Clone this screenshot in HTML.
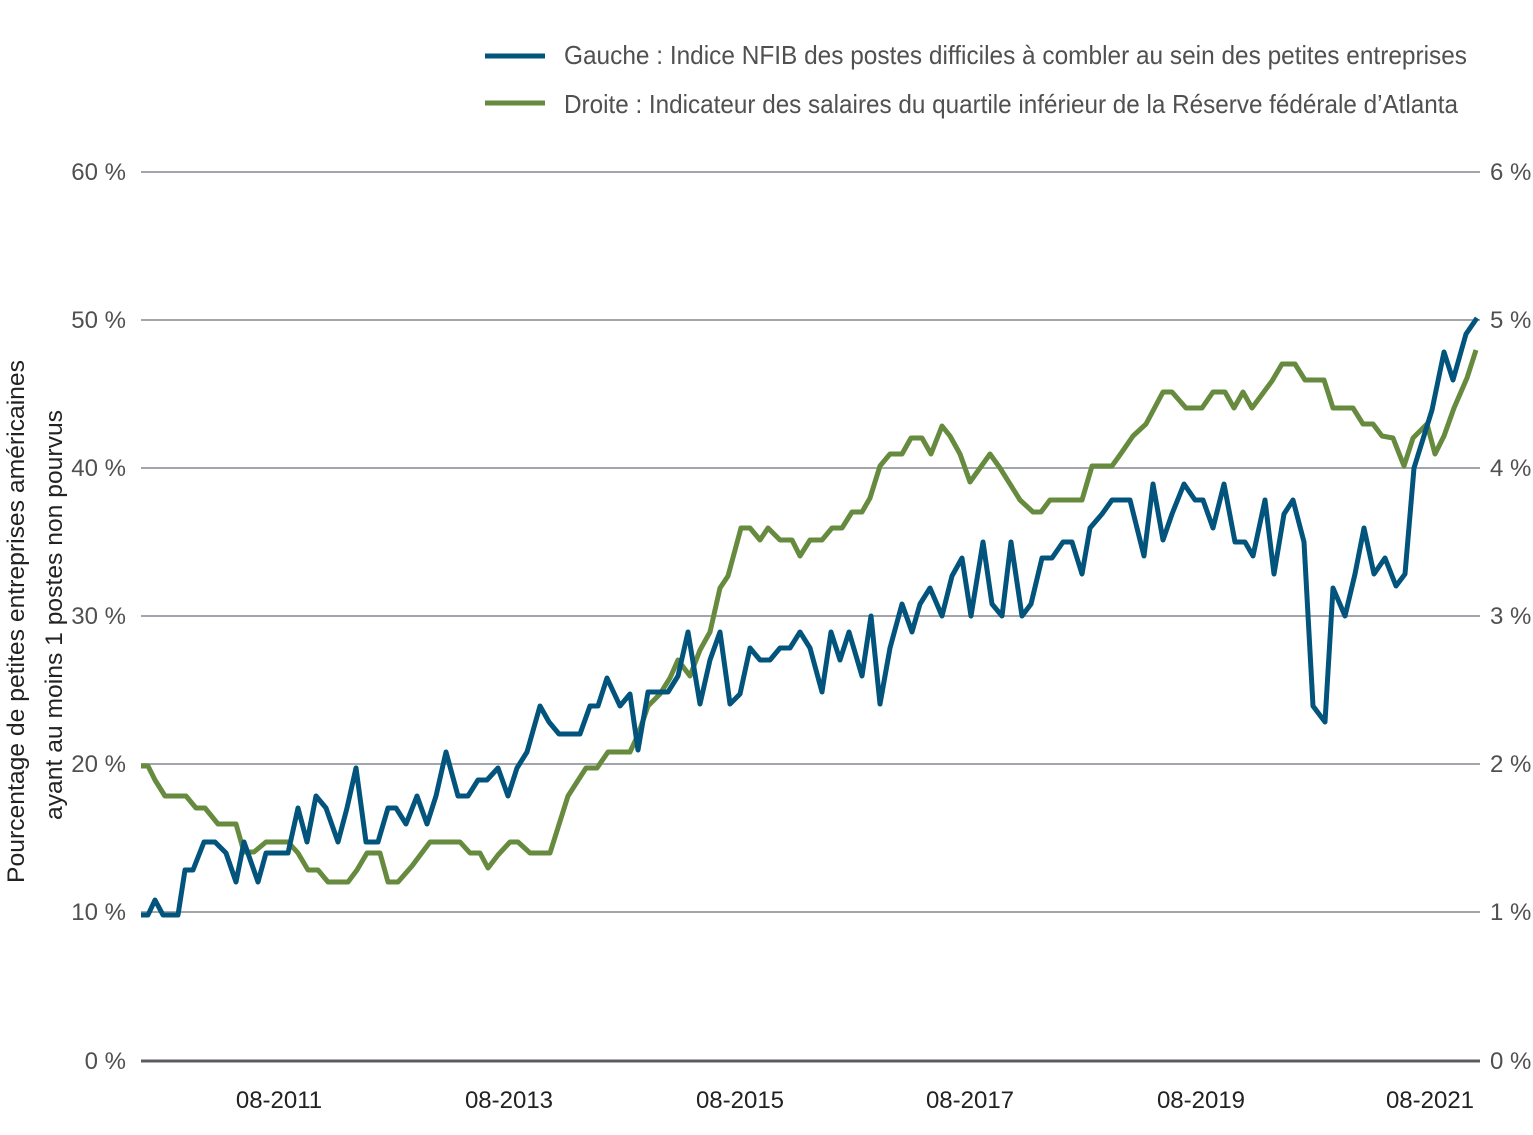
<!DOCTYPE html>
<html><head><meta charset="utf-8"><style>
html,body{margin:0;padding:0;background:#fff;}
svg text{font-family:"Liberation Sans Narrow","Liberation Sans",sans-serif;fill:#505050;}
</style></head><body>
<svg width="1533" height="1130" viewBox="0 0 1533 1130" xmlns="http://www.w3.org/2000/svg">
<g stroke="#a3a5ad" stroke-width="2">
<line x1="141" y1="172" x2="1480" y2="172"/>
<line x1="141" y1="320" x2="1480" y2="320"/>
<line x1="141" y1="468" x2="1480" y2="468"/>
<line x1="141" y1="616" x2="1480" y2="616"/>
<line x1="141" y1="764" x2="1480" y2="764"/>
<line x1="141" y1="912" x2="1480" y2="912"/>
</g>
<line x1="141" y1="1061" x2="1480" y2="1061" stroke="#5a5c62" stroke-width="3"/>
<g font-size="24" text-anchor="end">
<text x="126" y="180">60 %</text><text x="126" y="328">50 %</text><text x="126" y="476">40 %</text>
<text x="126" y="624">30 %</text><text x="126" y="772">20 %</text><text x="126" y="920">10 %</text><text x="126" y="1069">0 %</text>
</g>
<g font-size="24" text-anchor="start">
<text x="1490" y="180">6 %</text><text x="1490" y="328">5 %</text><text x="1490" y="476">4 %</text>
<text x="1490" y="624">3 %</text><text x="1490" y="772">2 %</text><text x="1490" y="920">1 %</text><text x="1490" y="1069">0 %</text>
</g>
<g font-size="24" text-anchor="middle">
<text x="279" y="1108" style="fill:#222">08-2011</text><text x="509" y="1108" style="fill:#222">08-2013</text>
<text x="740" y="1108" style="fill:#222">08-2015</text><text x="970" y="1108" style="fill:#222">08-2017</text>
<text x="1201" y="1108" style="fill:#222">08-2019</text><text x="1430" y="1108" style="fill:#222">08-2021</text>
</g>
<text transform="translate(24,883) rotate(-90)" font-size="24" textLength="523" lengthAdjust="spacingAndGlyphs" style="fill:#222">Pourcentage de petites entreprises américaines</text>
<text transform="translate(62,820) rotate(-90)" font-size="24" textLength="410" lengthAdjust="spacingAndGlyphs" style="fill:#222">ayant au moins 1 postes non pourvus</text>
<line x1="485" y1="56" x2="545" y2="56" stroke="#02547c" stroke-width="5"/>
<line x1="485" y1="103" x2="545" y2="103" stroke="#668a3e" stroke-width="5"/>
<text x="564" y="64" font-size="26" textLength="903" lengthAdjust="spacingAndGlyphs">Gauche : Indice NFIB des postes difficiles à combler au sein des petites entreprises</text>
<text x="564" y="113" font-size="26" textLength="894" lengthAdjust="spacingAndGlyphs">Droite : Indicateur des salaires du quartile inférieur de la Réserve fédérale d’Atlanta</text>
<polyline fill="none" stroke="#668a3e" stroke-width="5" stroke-linejoin="round" points="141,766 148,766 155,780 165,796 186,796 196,808 205,808 218,824 236,824 244,852 254,852 266,842 288,842 298,853 308,870 318,870 328,882 348,882 357,870 367,853 380,853 388,882 398,882 412,866 430,842 460,842 470,853 480,853 488,868 498,855 510,842 518,842 530,853 550,853 568,796 586,768 597,768 608,752 630,752 638,735 648,706 660,694 670,678 678,660 690,676 700,650 710,632 720,588 728,576 741,528 750,528 760,540 768,528 780,540 792,540 800,556 810,540 822,540 832,528 842,528 852,512 862,512 870,498 880,466 890,454 902,454 911,438 922,438 931,454 942,426 950,436 960,454 970,482 990,454 1000,468 1020,500 1033,512 1041,512 1050,500 1082,500 1092,466 1112,466 1122,452 1133,436 1146,424 1163,392 1172,392 1186,408 1202,408 1213,392 1225,392 1234,408 1243,392 1252,408 1272,381 1282,364 1295,364 1305,380 1324,380 1333,408 1353,408 1363,424 1373,424 1382,436 1393,438 1404,466 1413,438 1427,424 1435,454 1444,436 1454,408 1467,378 1476,350"/>
<polyline fill="none" stroke="#02547c" stroke-width="5" stroke-linejoin="round" points="141,915 148,915 155,900 163,915 170,915 178,915 185,870 193,870 204,842 215,842 226,853 236,882 244,842 258,882 266,853 280,853 288,853 298,808 307,842 316,796 326,808 338,842 347,808 356,768 366,842 378,842 388,808 396,808 406,824 417,796 427,824 436,796 446,752 458,796 468,796 478,780 487,780 498,768 508,796 517,768 527,752 540,706 549,722 559,734 570,734 580,734 590,706 598,706 607,678 620,706 630,694 638,750 648,692 668,692 678,676 688,632 700,704 710,660 720,632 730,704 740,694 750,648 760,660 770,660 780,648 790,648 800,632 810,648 822,692 831,632 840,660 849,632 862,676 871,616 880,704 890,648 902,604 912,632 920,604 930,588 942,616 952,576 962,558 971,616 983,542 992,604 1002,616 1011,542 1022,616 1031,604 1042,558 1052,558 1063,542 1072,542 1082,574 1090,528 1102,514 1112,500 1130,500 1144,556 1153,484 1163,540 1172,514 1184,484 1195,500 1203,500 1213,528 1224,484 1235,542 1245,542 1253,556 1265,500 1274,574 1284,514 1293,500 1304,542 1313,706 1325,722 1333,588 1345,616 1355,574 1364,528 1374,574 1385,558 1396,586 1405,574 1414,468 1432,410 1444,352 1453,380 1466,334 1477,318"/>
</svg>
</body></html>
